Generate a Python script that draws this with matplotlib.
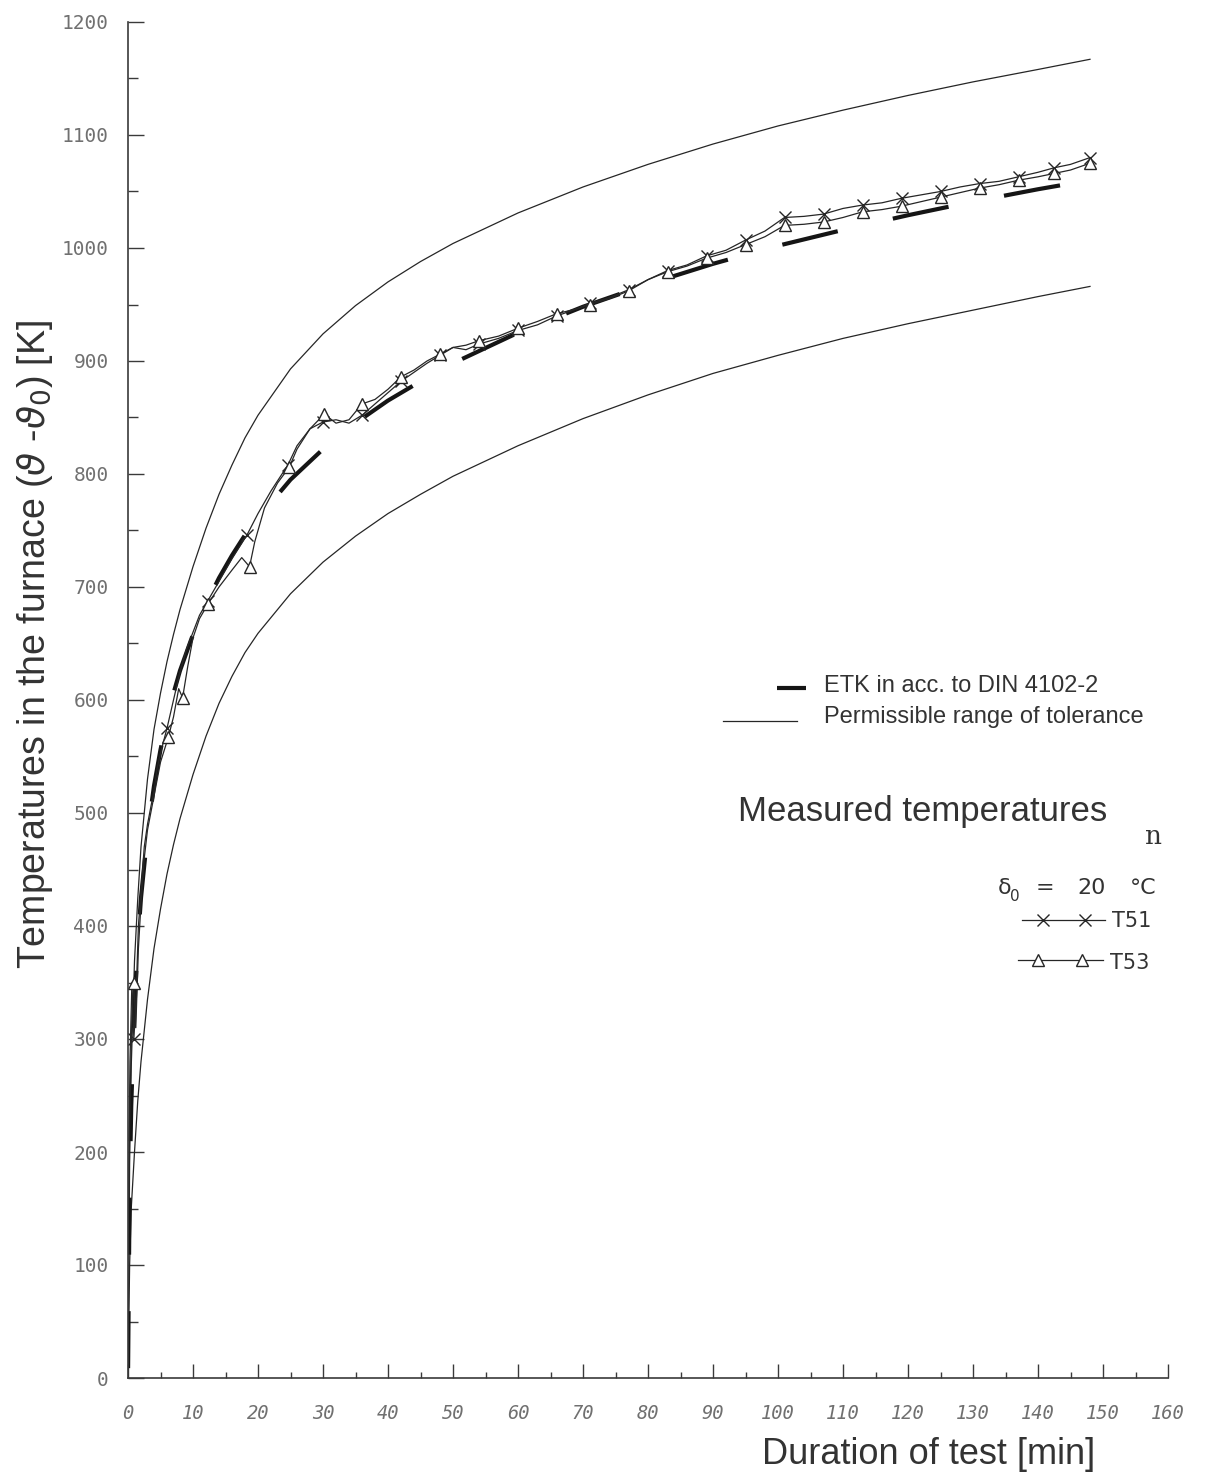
import numpy as np
import matplotlib.pyplot as plt
from matplotlib.lines import Line2D
from matplotlib.ticker import MultipleLocator

plt.rcParams['font.family'] = ['Liberation Sans', 'DejaVu Sans']
plt.rcParams['mathtext.fontset'] = 'dejavusans'
plt.rcParams['lines.scale_dashes'] = False

# time grid for the standard curve and the tolerance band [min]
tol_t = [0, 0.25, 0.5, 1, 1.5, 2, 3, 4, 5, 6, 7, 8, 10, 12, 14, 16, 18, 20, 25, 30,
         35, 40, 45, 50, 60, 70, 80, 90, 100, 110, 120, 130, 140, 148]
etk = [0, 165, 241, 329, 384, 425, 482, 524, 556, 583, 606, 626, 658, 685, 708, 728, 746, 761, 795, 822,
       845, 865, 882, 898, 925, 948, 968, 986, 1002, 1016, 1029, 1041, 1052, 1060]
upper = [0, 190, 276, 369, 424, 470, 530, 574, 606, 634, 658, 680, 718, 752, 782, 808, 832, 852, 893, 924,
         949, 970, 988, 1004, 1031, 1054, 1074, 1092, 1108, 1122, 1135, 1147, 1158, 1167]
lower = [0, 100, 150, 200, 245, 280, 335, 380, 415, 446, 472, 495, 534, 568, 597, 621, 642, 659, 694, 722,
         745, 765, 782, 798, 825, 849, 870, 889, 905, 920, 933, 945, 957, 966]

# measured furnace temperatures
t51_t = [0, 0.3, 0.6, 0.9, 1.2, 1.6, 2.0, 2.5, 3.0, 3.5, 4.0, 4.5, 5.0, 6.0, 7.0, 8.0, 9.0, 10.0,
         11.0, 12.3, 14.0, 16.0, 18.3, 20.0, 22.0, 24.6, 26.0, 28.0, 30.0, 32.0, 34.0, 36.0, 38.0,
         40.0, 42.0, 44.0, 46.0, 48.0, 50.0, 52.0, 54.0, 57.0, 60.0, 63.0, 66.0, 69.0, 71.0, 74.0,
         77.0, 80.0, 83.0, 86.0, 89.0, 92.0, 95.0, 98.0, 101.0, 104.0, 107.0, 110.0, 113.0, 116.0,
         119.0, 122.0, 125.0, 128.0, 131.0, 134.0, 137.0, 140.0, 142.5, 145.0, 148.0]
t51_v = [110, 280, 350, 300, 330, 400, 430, 470, 490, 505, 520, 540, 553, 575, 600, 625, 645, 660,
         675, 688, 705, 725, 746, 765, 785, 808, 825, 840, 846, 848, 845, 852, 862,
         872, 882, 890, 898, 905, 912, 910, 915, 920, 927, 932, 940, 946, 951, 956,
         963, 972, 980, 985, 993, 998, 1007, 1015, 1027, 1028, 1030, 1035, 1038, 1040,
         1044, 1047, 1050, 1054, 1057, 1059, 1063, 1067, 1071, 1074, 1080]
t51_marks = [0.9, 6.0, 12.3, 18.3, 24.6, 30.0, 36.0, 42.0, 48.0, 54.0, 60.0, 66.0, 71.0, 77.0, 83.0,
             89.0, 95.0, 101.0, 107.0, 113.0, 119.0, 125.0, 131.0, 137.0, 142.5, 148.0]

t53_t = [0, 0.3, 0.6, 0.9, 1.2, 1.6, 2.0, 2.5, 3.0, 3.5, 4.0, 4.5, 5.0, 6.2, 7.0, 7.8, 8.4, 9.2,
         10.0, 11.0, 12.3, 14.0, 16.0, 17.5, 18.7, 19.5, 21.0, 23.0, 24.8, 26.0, 28.0, 30.2, 32.0,
         34.0, 36.0, 38.0, 40.0, 42.0, 44.0, 46.0, 48.0, 50.0, 52.0, 54.0, 57.0, 60.0, 63.0, 66.0,
         69.0, 71.0, 74.0, 77.0, 80.0, 83.0, 86.0, 89.0, 92.0, 95.0, 98.0, 101.0, 104.0, 107.0,
         110.0, 113.0, 116.0, 119.0, 122.0, 125.0, 128.0, 131.0, 134.0, 137.0, 140.0, 142.5, 145.0, 148.0]
t53_v = [130, 240, 320, 350, 310, 380, 420, 460, 485, 500, 515, 530, 545, 567, 585, 610, 602, 630,
         655, 672, 685, 700, 715, 726, 718, 740, 770, 792, 806, 822, 840, 853, 845,
         848, 862, 866, 875, 886, 892, 900, 906, 912, 914, 918, 922, 929, 935, 942,
         946, 950, 955, 962, 972, 979, 984, 991, 996, 1003, 1010, 1020, 1021, 1023,
         1027, 1032, 1034, 1037, 1041, 1045, 1049, 1053, 1056, 1060, 1063, 1066, 1069, 1075]
t53_marks = [0.9, 6.2, 8.4, 12.3, 18.7, 24.8, 30.2, 36.0, 42.0, 48.0, 54.0, 60.0, 66.0, 71.0, 77.0,
             83.0, 89.0, 95.0, 101.0, 107.0, 113.0, 119.0, 125.0, 131.0, 137.0, 142.5, 148.0]

W, H = 1205, 1477
fig = plt.figure(figsize=(W / 100, H / 100), dpi=100)
ax = fig.add_axes([128 / W, 1 - 1378 / H, 1040 / W, 1356 / H])
ax.set_xlim(0, 160)
ax.set_ylim(0, 1200)

ink = '#262626'
for s in ['top', 'right']:
    ax.spines[s].set_visible(False)
for s in ['left', 'bottom']:
    ax.spines[s].set_color('#3a3a3a')
    ax.spines[s].set_linewidth(1.2)

ax.xaxis.set_major_locator(MultipleLocator(10))
ax.xaxis.set_minor_locator(MultipleLocator(5))
ax.yaxis.set_major_locator(MultipleLocator(100))
ax.yaxis.set_minor_locator(MultipleLocator(50))
ax.tick_params(axis='x', which='major', direction='in', length=10, width=1, color='#3a3a3a', pad=19)
ax.tick_params(axis='x', which='minor', direction='in', length=4, width=1, color='#3a3a3a')
ax.tick_params(axis='y', which='major', direction='in', length=11.5, width=1, color='#3a3a3a', pad=14)
ax.tick_params(axis='y', which='minor', direction='in', length=7, width=1, color='#3a3a3a')
for lab in ax.get_xticklabels():
    lab.set_fontfamily('DejaVu Sans Mono')
    lab.set_fontstyle('oblique')
    lab.set_fontsize(13.5)
    lab.set_color('#707070')
for lab in ax.get_yticklabels():
    lab.set_fontfamily('DejaVu Sans Mono')
    lab.set_fontsize(14)
    lab.set_color('#707070')

# tolerance band
ax.plot(tol_t, upper, color=ink, lw=0.9)
ax.plot(tol_t, lower, color=ink, lw=0.9)

# ETK, long dashes; one dash starts at about 23.4 min as in the original plot
etk_line, = ax.plot(tol_t, etk, color='#151515', lw=3.0, dash_capstyle='butt', solid_capstyle='butt')
pts = ax.transData.transform(np.column_stack([tol_t, etk]))
cum = np.concatenate([[0], np.cumsum(np.hypot(np.diff(pts[:, 0]), np.diff(pts[:, 1])))])
on, off = 57 * 0.72, 56.5 * 0.72
start = np.interp(23.4, tol_t, cum) * 0.72
etk_line.set_linestyle(((-start) % (on + off), (on, off)))

# measured curves
idx51 = list(np.where(np.isin(t51_t, t51_marks))[0])
idx53 = list(np.where(np.isin(t53_t, t53_marks))[0])
ax.plot(t51_t, t51_v, color=ink, lw=0.9, marker='x', ms=9, mew=1.0, markevery=idx51)
ax.plot(t53_t, t53_v, color=ink, lw=0.9, marker='^', ms=8, mew=1.0, mfc='white', markevery=idx53)


def fx(x):
    return x / W


def fy(y):
    return 1 - y / H


# legend drawn by hand
fig.add_artist(Line2D([fx(777), fx(806)], [fy(688)] * 2, color='#151515', lw=3.0, solid_capstyle='butt'))
fig.add_artist(Line2D([fx(723), fx(797)], [fy(721)] * 2, color=ink, lw=0.9))
txt = '#333333'
fig.text(fx(824), fy(686), 'ETK in acc. to DIN 4102-2', fontsize=17, va='center', color=txt)
fig.text(fx(824), fy(717), 'Permissible range of tolerance', fontsize=17, va='center', color=txt)
fig.text(fx(738), fy(812), 'Measured temperatures', fontsize=25, va='center', color=txt)
fig.text(fx(1154), fy(836), 'n', family='DejaVu Serif', fontsize=19, ha='center', va='center', color=txt)

fig.text(fx(1005), fy(888), 'δ', family='DejaVu Sans', fontsize=16, ha='center', va='center', color=txt)
fig.text(fx(1015), fy(896), '0', family='DejaVu Sans', fontsize=11, ha='center', va='center', color=txt)
fig.text(fx(1045), fy(888), '=', family='DejaVu Sans', fontsize=16, ha='center', va='center', color=txt)
fig.text(fx(1092), fy(888), '20', family='DejaVu Sans', fontsize=16, ha='center', va='center', color=txt)
fig.text(fx(1143), fy(888), '°C', family='DejaVu Sans', fontsize=16, ha='center', va='center', color=txt)

fig.add_artist(Line2D([fx(1022), fx(1105)], [fy(920)] * 2, color=ink, lw=0.9))
fig.add_artist(Line2D([fx(1043), fx(1085)], [fy(920)] * 2, ls='none', marker='x', ms=9, mew=1.0, color=ink))
fig.text(fx(1112), fy(921), 'T51', family='DejaVu Sans', fontsize=15, va='center', color=txt)
fig.add_artist(Line2D([fx(1018), fx(1103)], [fy(960)] * 2, color=ink, lw=0.9))
fig.add_artist(Line2D([fx(1038), fx(1082)], [fy(960)] * 2, ls='none', marker='^', ms=8, mew=1.0,
                      mfc='white', color=ink))
fig.text(fx(1110), fy(963), 'T53', family='DejaVu Sans', fontsize=15, va='center', color=txt)

fig.text(fx(35), fy(644), r'Temperatures in the furnace ($\vartheta$ -$\vartheta_0$) [K]',
         rotation=90, fontsize=27, ha='center', va='center', color=txt)
fig.text(fx(762), fy(1455), 'Duration of test [min]', fontsize=26, va='center', color=txt)

fig.savefig('out.png', dpi=100, facecolor='white')
